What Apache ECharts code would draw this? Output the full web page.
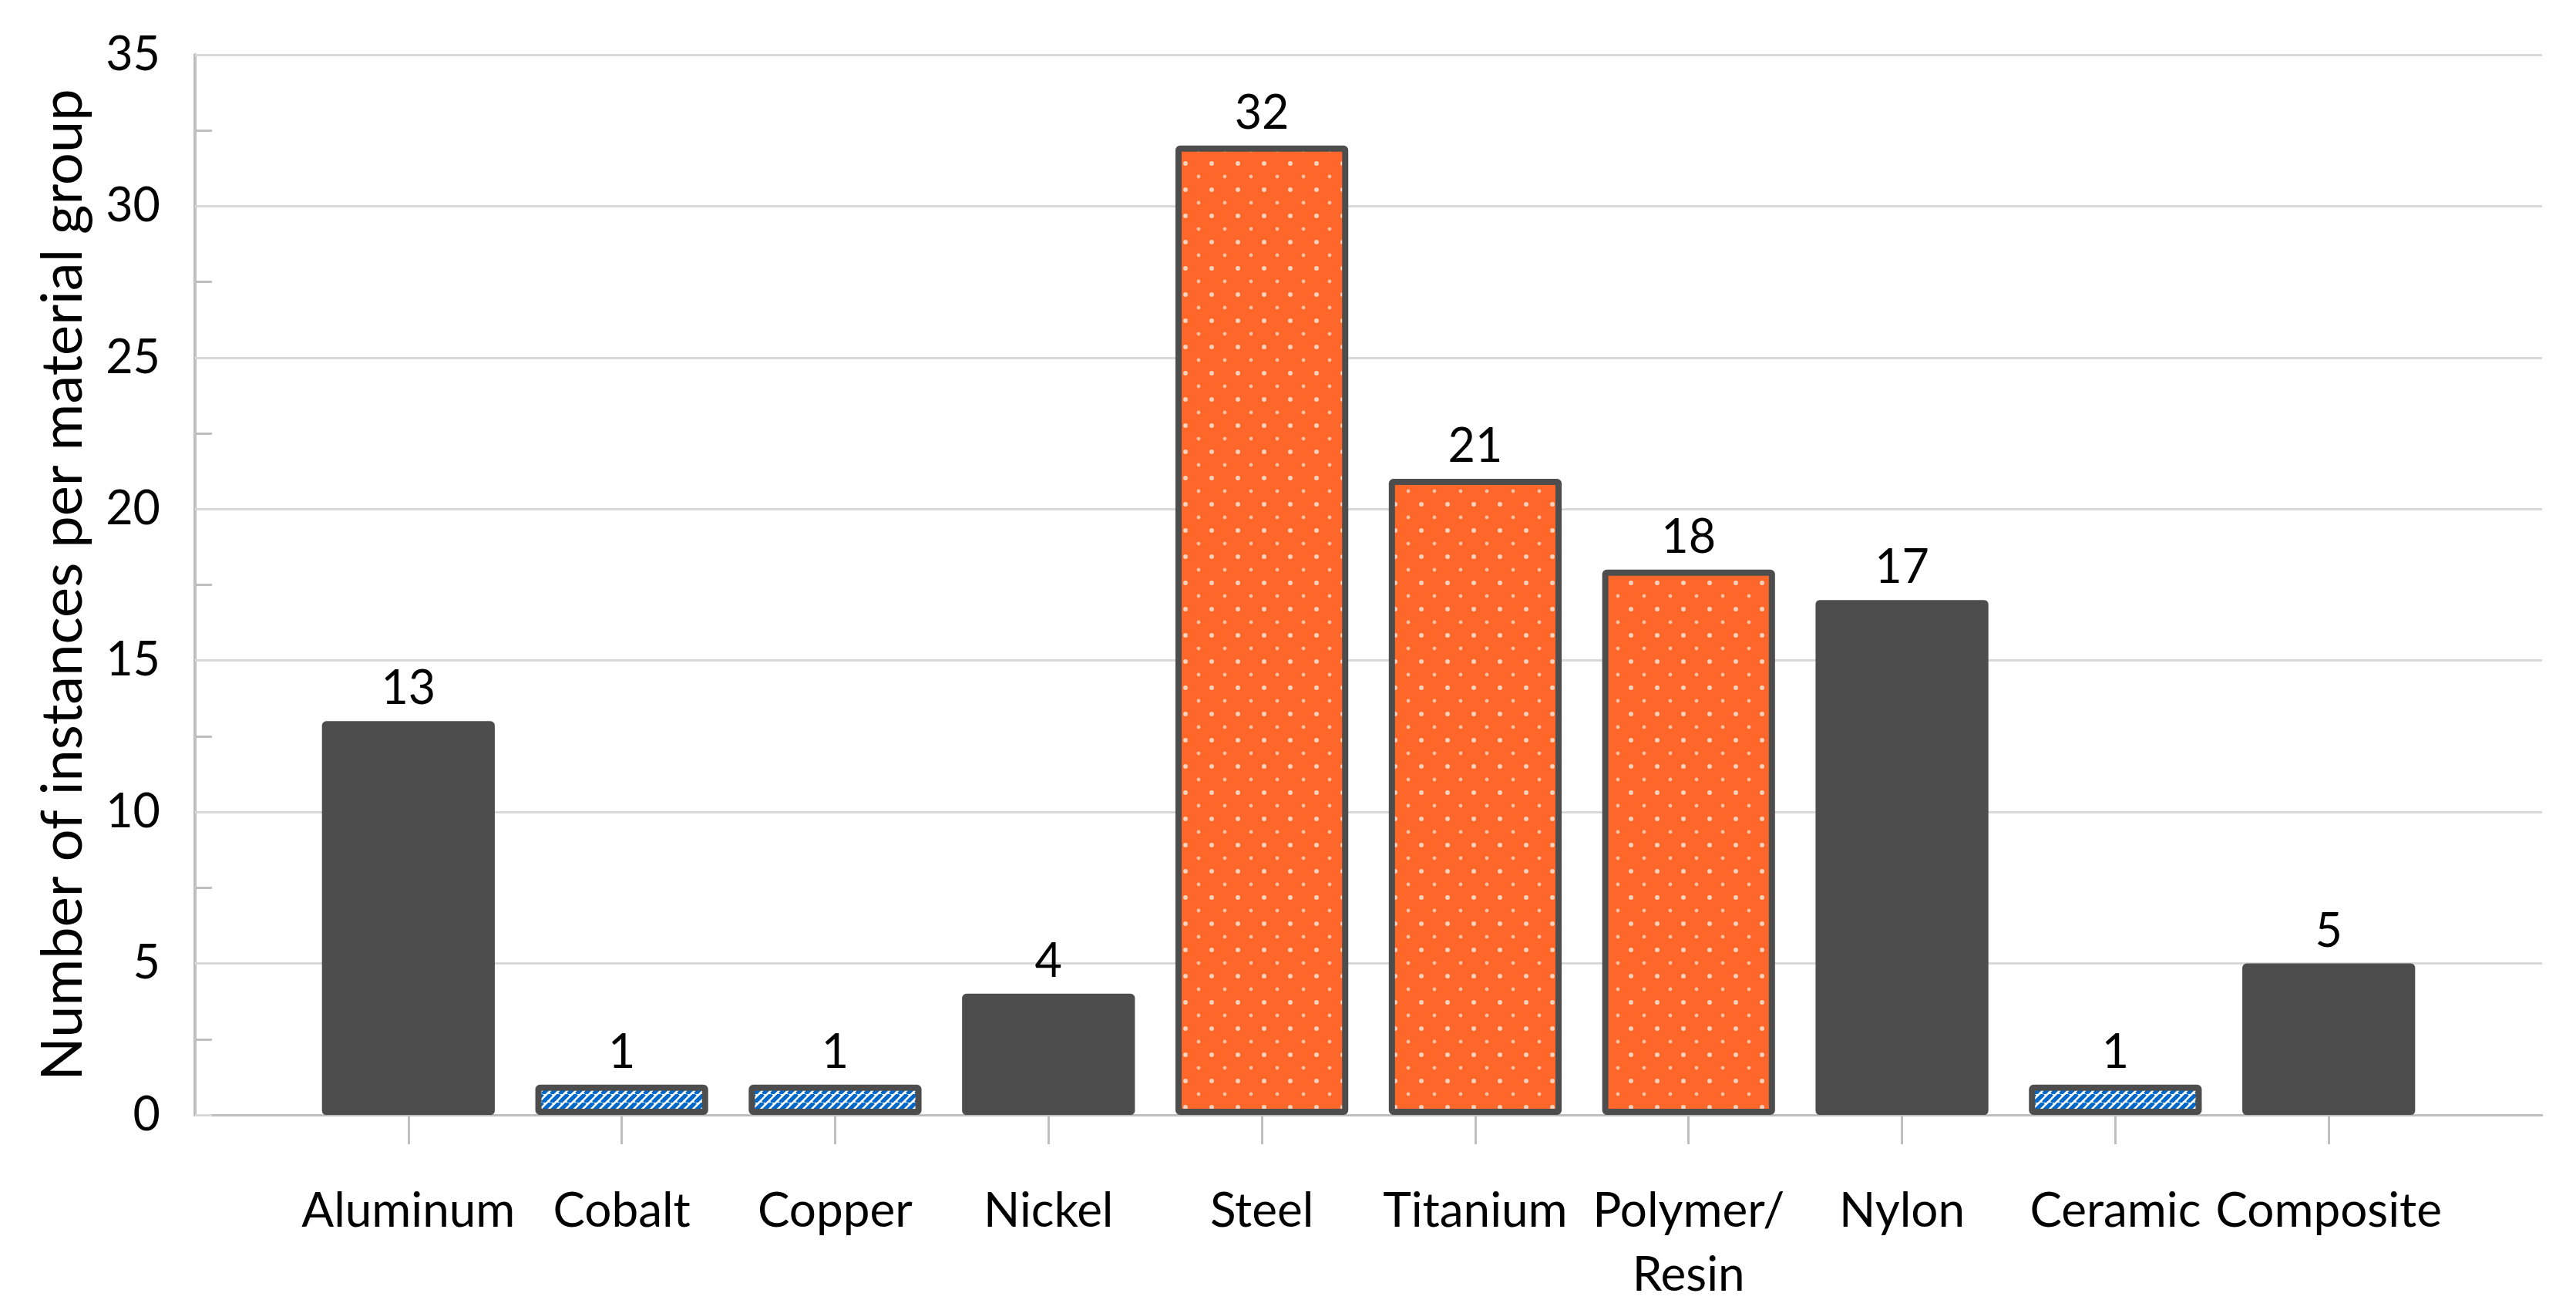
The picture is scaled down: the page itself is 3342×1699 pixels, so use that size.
<!DOCTYPE html>
<html><head><meta charset="utf-8">
<script src="https://cdn.jsdelivr.net/npm/echarts@6/dist/echarts.min.js"></script>
<style>html,body{margin:0;padding:0;background:#fff}#c{width:3342px;height:1699px}</style>
</head><body><div id="c"></div>
<script>
// ---- data ----
const categories = ['Aluminum','Cobalt','Copper','Nickel','Steel','Titanium','Polymer/\nResin','Nylon','Ceramic','Composite'];
const counts = [13, 1, 1, 4, 32, 21, 18, 17, 1, 5];
const hatchedGroup = ['Cobalt','Copper','Ceramic'];
const dottedGroup = ['Steel','Titanium','Polymer/\nResin'];
const yAxisTitle = 'Number of instances per material group';
const yMin = 0, yMax = 35, yStep = 5;

// ---- patterns ----
function hatchPattern(){
  const s = 11, c = document.createElement('canvas');
  c.width = c.height = s;
  const g = c.getContext('2d');
  g.fillStyle = '#ffffff'; g.fillRect(0,0,s,s);
  g.strokeStyle = '#0068C8'; g.lineWidth = 5.2;
  g.beginPath();
  for (let k=-1;k<=1;k++){ g.moveTo(k*s, s); g.lineTo(k*s+s, 0); }
  g.stroke();
  return c;
}
function dotPattern(){
  const s = 34, c = document.createElement('canvas');
  c.width = c.height = s;
  const g = c.getContext('2d');
  g.fillStyle = '#FF6629'; g.fillRect(0,0,s,s);
  g.fillStyle = '#FFD0BC';
  g.beginPath(); g.arc(8,8,3,0,Math.PI*2); g.fill();
  g.fillStyle = '#FFC0A4';
  g.beginPath(); g.arc(25,25,2.4,0,Math.PI*2); g.fill();
  return c;
}
const hatchImg = hatchPattern();
const dotImg = dotPattern();

// padded category axis: one empty slot at each end
const axisCats = [''].concat(categories, ['']);
const seriesData = [null].concat(categories.map((name, i) => {
  let itemStyle;
  if (hatchedGroup.includes(name)) {
    itemStyle = { color: { image: hatchImg, repeat: 'repeat' }, borderColor: '#4D4D4D', borderWidth: 8, borderRadius: 2 };
  } else if (dottedGroup.includes(name)) {
    itemStyle = { color: { image: dotImg, repeat: 'repeat' }, borderColor: '#4D4D4D', borderWidth: 8, borderRadius: 2 };
  } else {
    itemStyle = { color: '#4D4D4D', borderColor: '#4D4D4D', borderWidth: 5, borderRadius: 3 };
  }
  return { value: counts[i], itemStyle };
}), [null]);

const FONT = 'Lato';
const chart = echarts.init(document.getElementById('c'), null, { renderer: 'canvas' });
chart.setOption({
  animation: false,
  backgroundColor: '#ffffff',
  grid: { left: 253, right: 44, top: 71, bottom: 253 },
  xAxis: {
    type: 'category',
    data: axisCats,
    boundaryGap: false,
    axisLine: { show: true, lineStyle: { color: '#BFBFBF', width: 3 } },
    axisTick: { show: true, length: 38, interval: (i) => i > 0 && i < axisCats.length - 1,
      lineStyle: { color: '#BFBFBF', width: 3 } },
    axisLabel: { interval: 0, margin: 83, fontFamily: FONT, fontSize: 62, lineHeight: 83, color: '#000' },
    splitLine: { show: false }
  },
  yAxis: {
    type: 'value',
    min: yMin, max: yMax, interval: yStep,
    name: yAxisTitle,
    nameLocation: 'middle',
    nameGap: 134,
    nameTextStyle: { fontFamily: FONT, fontSize: 74, color: '#000' },
    axisLine: { show: true, lineStyle: { color: '#BFBFBF', width: 4 } },
    axisTick: { show: true, inside: true, length: 22, lineStyle: { color: '#D9D9D9', width: 3 } },
    minorTick: { show: true, splitNumber: 2, length: 22, lineStyle: { color: '#BFBFBF', width: 3 } },
    splitLine: { show: true, lineStyle: { color: '#D9D9D9', width: 3 } },
    axisLabel: { margin: 45, fontFamily: FONT, fontSize: 61, color: '#000' }
  },
  series: [{
    type: 'bar',
    data: seriesData,
    barWidth: '81%',
    label: { show: true, position: 'top', distance: 11, fontFamily: FONT, fontSize: 61, color: '#000' }
  }]
});
</script>
</body></html>
